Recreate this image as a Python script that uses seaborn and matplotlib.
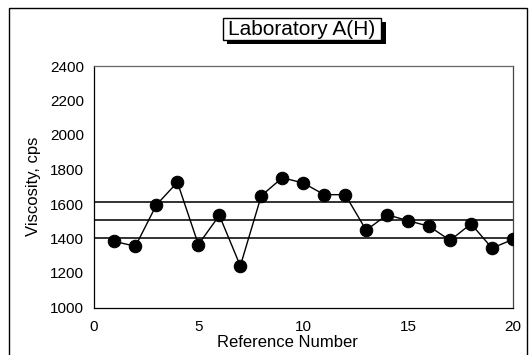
import matplotlib
matplotlib.use("Agg")
import matplotlib.pyplot as plt
import seaborn as sns
import pandas as pd
from matplotlib.patches import Rectangle

ref_numbers = list(range(1, 21))
viscosity = [1383, 1355, 1595, 1726, 1365, 1534, 1241, 1648, 1752, 1722,
             1654, 1654, 1448, 1538, 1503, 1471, 1389, 1485, 1344, 1395]
ref_lines = [1610, 1507, 1404]
x_ticks = [0, 5, 10, 15, 20]
y_ticks = [1000, 1200, 1400, 1600, 1800, 2000, 2200, 2400]

sns.set_theme(style="white")
plt.rcParams['font.family'] = ['Liberation Sans', 'DejaVu Sans']

df = pd.DataFrame({"Reference Number": ref_numbers, "Viscosity": viscosity})

W, H = 531, 355
fig = plt.figure(figsize=(W/100, H/100), dpi=100)
ax = fig.add_axes([93.5/W, 1 - 307.5/H, (513-93.5)/W, (307.5-66)/H])

for v in ref_lines:
    ax.axhline(v, color="#222222", lw=1.3, zorder=1)

sns.lineplot(data=df, x="Reference Number", y="Viscosity", ax=ax,
             color="black", lw=1.0, marker="o", markersize=9,
             markeredgecolor="black", markerfacecolor="black", zorder=3)

ax.set_xlim(0, 20)
ax.set_ylim(1000, 2400)
ax.set_xticks(x_ticks)
ax.set_yticks(y_ticks)
ax.tick_params(axis="y", direction="in", length=3, width=0.8,
               labelsize=11, colors="black", pad=7)
ax.tick_params(axis="x", direction="in", length=0, width=0.8,
               labelsize=11, colors="black", pad=9)
ax.set_xlabel("Reference Number", fontsize=12, color="black", labelpad=1)
ax.set_ylabel("Viscosity, cps", fontsize=12, color="black", labelpad=6)
ax.xaxis.set_label_coords((287.5-93.5)/(513-93.5), -0.112)
for s in ax.spines.values():
    s.set_color("black")
    s.set_linewidth(0.9)
ax.spines["top"].set_color("#666666")
ax.spines["right"].set_color("#444444")

# title box with drop shadow
fig.patches.append(Rectangle((226.5/W, 1 - 43.5/H), (385.5-226.5)/W, (43.5-22)/H,
                             transform=fig.transFigure, fc="black", ec="none", zorder=1))
fig.patches.append(Rectangle((223/W, 1 - 40/H), (381-223)/W, (40-18.3)/H,
                             transform=fig.transFigure, fc="white", ec="black", lw=1.0, zorder=2))
fig.text(302/W, 1 - 29.5/H, "Laboratory A(H)", ha="center", va="center",
         fontsize=15, color="black", zorder=3)

# outer frame
fig.patches.append(Rectangle((9/W, -0.05), (526.5-9)/W, 1.05 - 7.5/H,
                             transform=fig.transFigure, fill=False, ec="black", lw=1.0, zorder=0))

fig.savefig("out.png", dpi=100)
